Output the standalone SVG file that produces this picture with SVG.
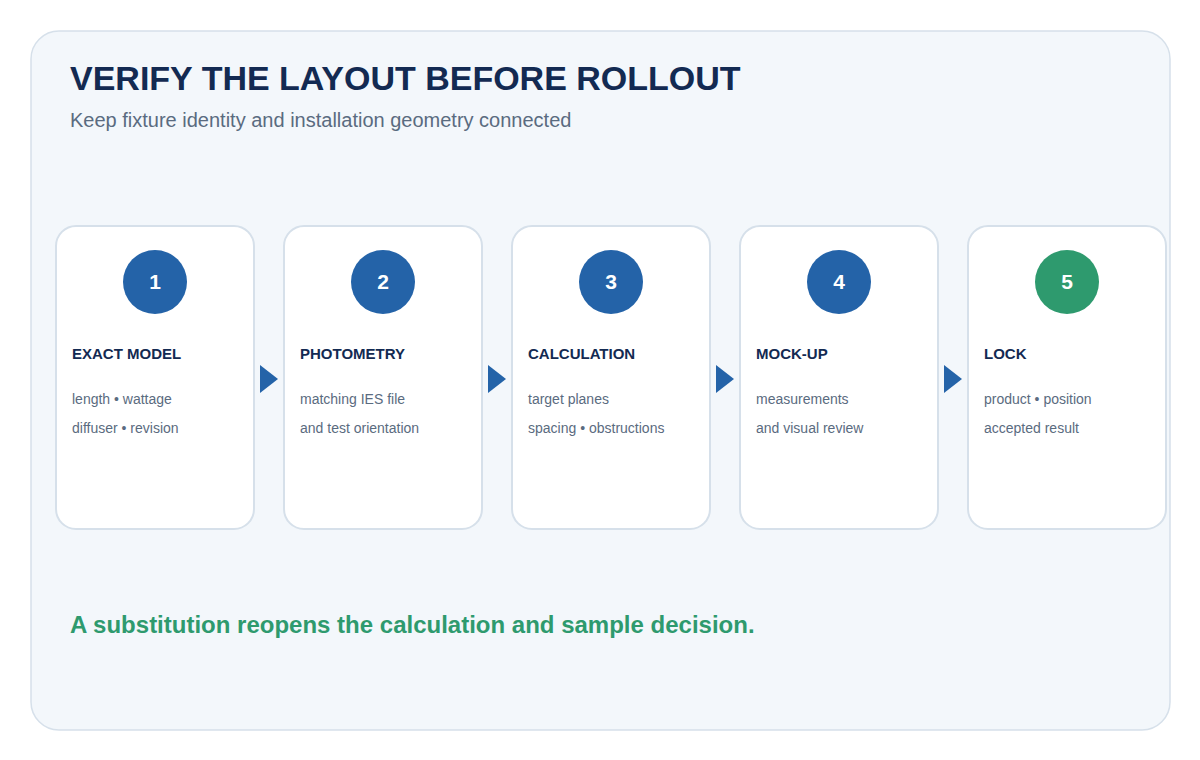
<svg xmlns="http://www.w3.org/2000/svg" width="1200" height="760" viewBox="0 0 1200 760">
<style>
text{font-family:"Liberation Sans",Arial,sans-serif}
.card{fill:#fff;stroke:#d6e0ea;stroke-width:2}
.num{fill:#fff;font-size:21px;font-weight:bold;text-anchor:middle}
.h{fill:#132a52;font-size:15px;font-weight:bold}
.b{fill:#5a6b80;font-size:14px}
.arr{fill:#2463a8}
</style>
<rect width="1200" height="760" fill="#fff"/>
<rect x="31" y="31" width="1139" height="699" rx="28" fill="#f3f7fb" stroke="#d6e0ea" stroke-width="1.5"/>
<text x="70" y="90" font-size="34" font-weight="bold" fill="#132a52">VERIFY THE LAYOUT BEFORE ROLLOUT</text>
<text x="70" y="127" font-size="20" fill="#5a6b80">Keep fixture identity and installation geometry connected</text>
<g id="connectors">
<path class="arr" d="M260 365 L278 379 L260 393 Z"/>
<path class="arr" d="M488 365 L506 379 L488 393 Z"/>
<path class="arr" d="M716 365 L734 379 L716 393 Z"/>
<path class="arr" d="M944 365 L962 379 L944 393 Z"/>
</g>
<g id="n1"><rect class="card" x="56" y="226" width="198" height="303" rx="20"/><circle cx="155" cy="282" r="32" fill="#2463a8"/><text class="num" x="155" y="289">1</text><text class="h" x="72" y="359">EXACT MODEL</text><text class="b" x="72" y="404">length • wattage</text><text class="b" x="72" y="433">diffuser • revision</text></g>
<g id="n2"><rect class="card" x="284" y="226" width="198" height="303" rx="20"/><circle cx="383" cy="282" r="32" fill="#2463a8"/><text class="num" x="383" y="289">2</text><text class="h" x="300" y="359">PHOTOMETRY</text><text class="b" x="300" y="404">matching IES file</text><text class="b" x="300" y="433">and test orientation</text></g>
<g id="n3"><rect class="card" x="512" y="226" width="198" height="303" rx="20"/><circle cx="611" cy="282" r="32" fill="#2463a8"/><text class="num" x="611" y="289">3</text><text class="h" x="528" y="359">CALCULATION</text><text class="b" x="528" y="404">target planes</text><text class="b" x="528" y="433">spacing • obstructions</text></g>
<g id="n4"><rect class="card" x="740" y="226" width="198" height="303" rx="20"/><circle cx="839" cy="282" r="32" fill="#2463a8"/><text class="num" x="839" y="289">4</text><text class="h" x="756" y="359">MOCK-UP</text><text class="b" x="756" y="404">measurements</text><text class="b" x="756" y="433">and visual review</text></g>
<g id="n5"><rect class="card" x="968" y="226" width="198" height="303" rx="20"/><circle cx="1067" cy="282" r="32" fill="#2e9a6e"/><text class="num" x="1067" y="289">5</text><text class="h" x="984" y="359">LOCK</text><text class="b" x="984" y="404">product • position</text><text class="b" x="984" y="433">accepted result</text></g>
<text x="70" y="633" font-size="24" font-weight="bold" fill="#2e9a6e">A substitution reopens the calculation and sample decision.</text>
</svg>
